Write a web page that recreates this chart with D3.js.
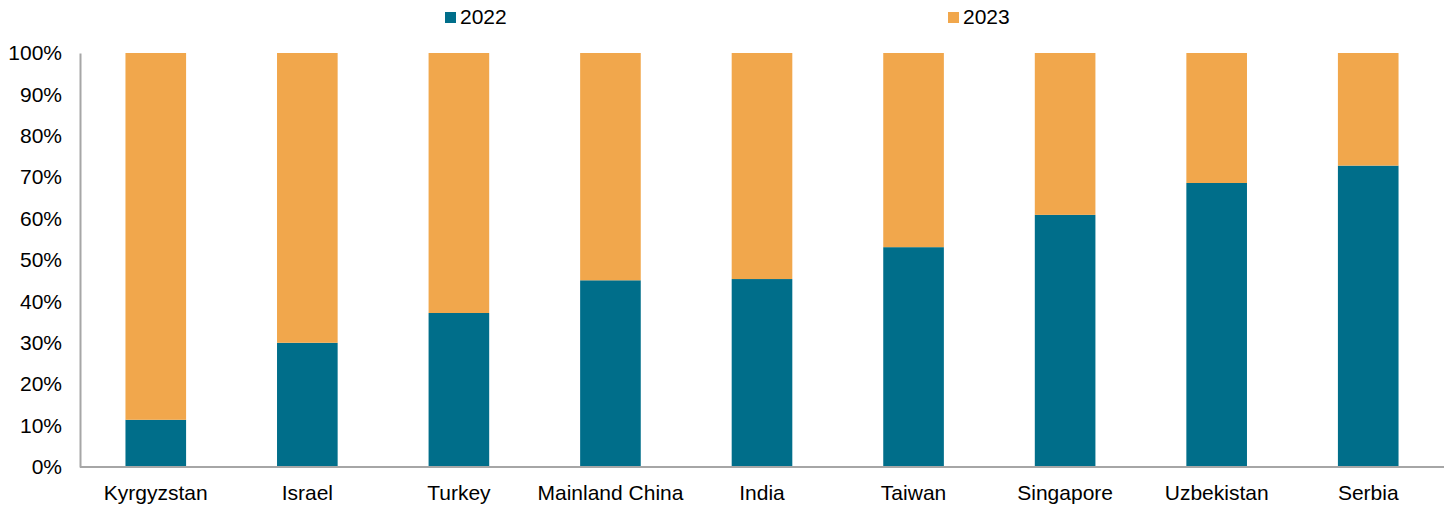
<!DOCTYPE html>
<html>
<head>
<meta charset="utf-8">
<script src="https://cdn.jsdelivr.net/npm/d3@7"></script>
<style>
  body { margin: 0; background: #fff; }
  svg text { font-family: "Liberation Sans", Arial, sans-serif; fill: #000; }
</style>
</head>
<body>
<div class="canvas"></div>
<script>
const countries = ['Kyrgyzstan', 'Israel', 'Turkey', 'Mainland China', 'India', 'Taiwan', 'Singapore', 'Uzbekistan', 'Serbia'];
const share2022 = [11.4, 30.0, 37.2, 45.1, 45.4, 53.1, 60.9, 68.6, 72.8];
const share2023 = share2022.map(v => 100 - v);
const yTicks = [0, 10, 20, 30, 40, 50, 60, 70, 80, 90, 100];
const seriesNames = ['2022', '2023'];
const colors = ['#006e8a', '#f1a74c'];

const margin = {top: 53, right: 5, bottom: 39, left: 80};
const width = 1449, height = 506;
const graphWidth = width - margin.left - margin.right;
const graphHeight = height - margin.top - margin.bottom;
const fontSize = 21;

const svg = d3.select('.canvas')
    .append('svg')
    .attr('width', width)
    .attr('height', height);

const graph = svg.append('g')
    .attr('transform', `translate(${margin.left}, ${margin.top})`);

const x = d3.scaleBand().domain(countries).range([0, 1364]).paddingInner(0.6).paddingOuter(0.3);
const y = d3.scaleLinear().domain([0, 100]).range([graphHeight, 0]);

const rows = countries.map((c, i) => ({country: c, s2022: share2022[i], s2023: share2023[i]}));
const stack = d3.stack().keys(['s2022', 's2023'])(rows);

graph.selectAll('g.series')
    .data(stack)
    .enter()
    .append('g')
    .attr('class', 'series')
    .attr('fill', (d, i) => colors[i])
    .selectAll('rect')
    .data(d => d)
    .enter()
    .append('rect')
    .attr('x', d => x(d.data.country))
    .attr('width', x.bandwidth())
    .attr('y', d => y(d[1]))
    .attr('height', d => y(d[0]) - y(d[1]));

// axes
const yAxis = d3.axisLeft(y).tickValues(yTicks).tickFormat(d => d + '%').tickSize(0).tickPadding(18);
const yAxisGroup = graph.append('g').call(yAxis);
yAxisGroup.select('.domain').attr('stroke', '#a6a6a6').attr('stroke-width', 2);
yAxisGroup.selectAll('text').attr('font-size', fontSize);

const xAxis = d3.axisBottom(x).tickSize(0).tickPadding(18);
const xAxisGroup = graph.append('g')
    .attr('transform', `translate(0, ${graphHeight})`)
    .call(xAxis);
xAxisGroup.select('.domain').attr('stroke', '#a6a6a6').attr('stroke-width', 2)
    .attr('d', `M0,0H${graphWidth}`);
xAxisGroup.selectAll('text').attr('font-size', fontSize);

// legend
const legendX = [445, 948];
seriesNames.forEach((name, i) => {
    const lg = svg.append('g').attr('transform', `translate(${legendX[i]}, 12)`);
    lg.append('rect').attr('width', 11).attr('height', 11).attr('fill', colors[i]);
    lg.append('text').attr('x', 15).attr('y', 12).attr('font-size', fontSize).text(name);
});
</script>
</body>
</html>
